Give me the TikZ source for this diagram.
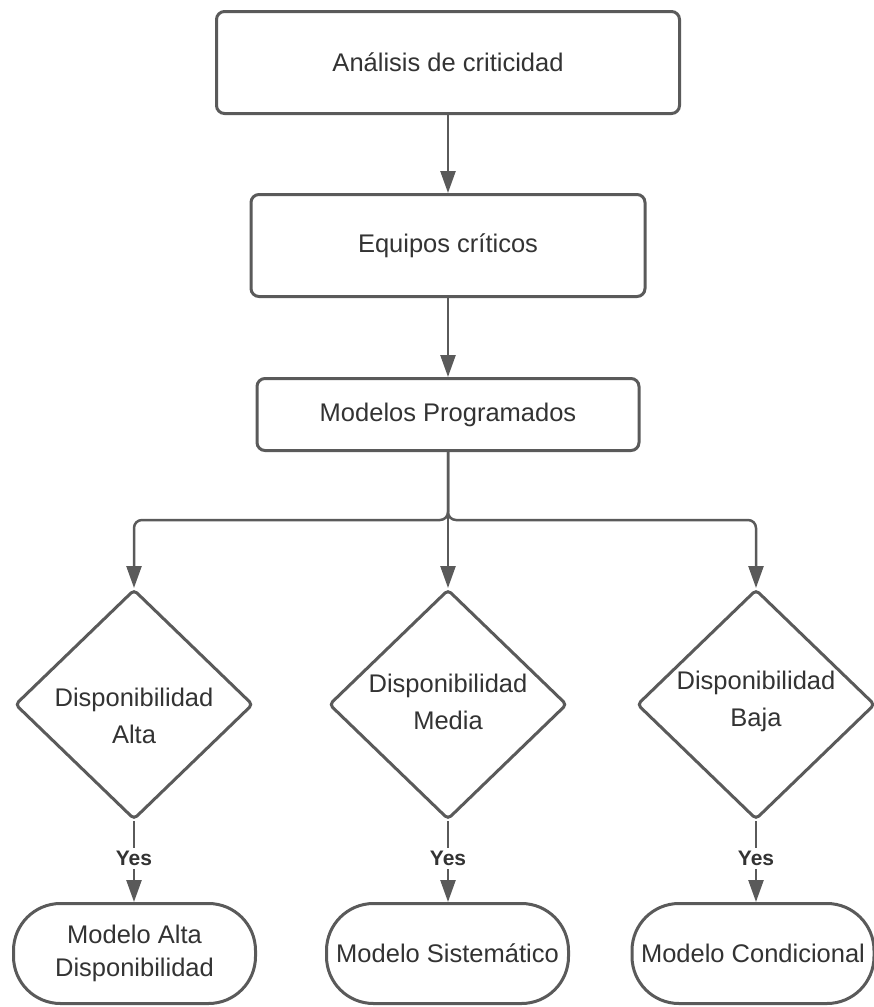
\documentclass[tikz,border=0pt]{standalone}
\usepackage{fontspec}
\setmainfont{Liberation Sans}
\usetikzlibrary{arrows.meta,shapes.geometric,calc}
\definecolor{edge}{HTML}{5A5A5A}
\definecolor{ink}{HTML}{333333}
\begin{document}
\begin{tikzpicture}[x=1pt,y=-1pt,
  every node/.style={text=ink, font=\fontsize{25.5}{37}\selectfont},
  procbox/.style={draw=edge, line width=3pt, rounded corners=8pt, fill=white,
    inner sep=0pt, align=center},
  decision/.style={draw=edge, line width=3pt, shape=diamond, fill=white,
    minimum width=238pt, minimum height=230pt, inner sep=0pt, rounded corners=4pt},
  dtext/.style={align=center, inner sep=0pt},
  terminal/.style={draw=edge, line width=3pt, rounded corners=47pt, fill=white,
    minimum width=242pt, minimum height=100pt, inner sep=0pt, align=center,
    font=\fontsize{25.5}{33}\selectfont},
  conn/.style={draw=edge, line width=2.5pt, -{Triangle[length=22pt,width=15pt]}},
  yeslabel/.style={fill=white, inner sep=3pt, font=\fontsize{21}{24}\bfseries\selectfont},
]
\useasboundingbox (0,0) rectangle (874,1007);

% process boxes
\node[procbox, minimum width=463pt, minimum height=102pt] (b1) at (448,62.5) {Análisis de criticidad};
\node[procbox, minimum width=394pt, minimum height=102pt] (b2) at (448,245.5) {Equipos críticos};
\node[procbox, minimum width=382pt, minimum height=72pt] (b3) at (448,414.5) {Modelos Programados};

% decisions
\node[decision] (d1) at (134,704.5) {};
\node[decision] (d2) at (448,704.5) {};
\node[decision] (d3) at (756,704.5) {};
\node[dtext] (d1t) at (134,716) {Disponibilidad\\Alta};
\node[dtext] (d2t) at (448,702) {Disponibilidad\\Media};
\node[dtext] (d3t) at (756,701.5) {Disponibilidad\\Baja};

% outcomes
\node[terminal] (t1) at (134.5,953.5) {Modelo Alta\\Disponibilidad};
\node[terminal] (t2) at (447.5,953.5) {Modelo Sistemático};
\node[terminal] (t3) at (753,953.5) {Modelo Condicional};

% connectors
\draw[conn] (b1) -- (b2);
\draw[conn] (b2) -- (b3);
\draw[conn, rounded corners=8pt] (b3.south) -- ++(0,68) -| (d1.north);
\draw[conn] (b3.south) -- (d2.north);
\draw[conn, rounded corners=8pt] (b3.south) -- ++(0,68) -| (d3.north);

\draw[conn] (d1.south) -- node[yeslabel, pos=0.46] {Yes} (d1.south |- t1.north);
\draw[conn] (d2.south) -- node[yeslabel, pos=0.46] {Yes} (d2.south |- t2.north);
\draw[conn] (d3.south) -- node[yeslabel, pos=0.46] {Yes} (d3.south |- t3.north);
\end{tikzpicture}
\end{document}
